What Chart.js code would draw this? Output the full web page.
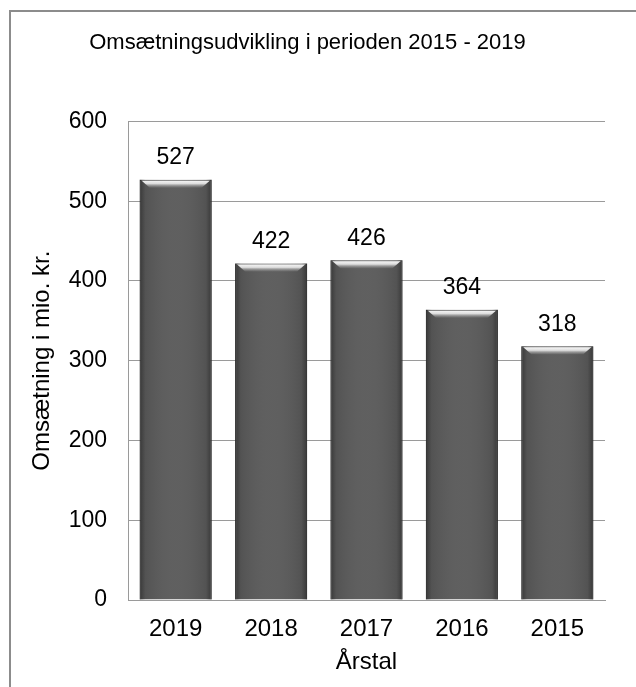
<!DOCTYPE html>
<html>
<head>
<meta charset="utf-8">
<script src="https://cdn.jsdelivr.net/npm/chart.js@4"></script>
<style>
  body { margin: 0; background: #fff; }
  #wrap { position: relative; width: 636px; height: 687px; }
  #frame { position: absolute; left: 9px; top: 10px; width: 700px; height: 700px;
           border-left: 2px solid #8c8c8c; border-top: 2px solid #8c8c8c; }
  canvas { position: absolute; left: 0; top: 0; }
</style>
</head>
<body>
<div id="wrap">
  <div id="frame"></div>
  <canvas id="omsChart" width="636" height="687"></canvas>
</div>
<script>
// chart data
const years = ['2019', '2018', '2017', '2016', '2015'];
const revenue = [527, 422, 426, 364, 318];
const yTicks = [0, 100, 200, 300, 400, 500, 600];

const font = 'Liberation Sans, Arial, sans-serif';

// shading + value labels on top of the bars
const barLook = {
    id: 'barLook',
    afterDatasetsDraw(chart) {
        const ctx = chart.ctx;
        const meta = chart.getDatasetMeta(0);
        meta.data.forEach((bar, i) => {
            const left = bar.x - bar.width / 2;
            const right = bar.x + bar.width / 2;
            const top = bar.y;
            const bottom = bar.base;
            ctx.save();
            // darker sides
            const g = ctx.createLinearGradient(left, 0, right, 0);
            g.addColorStop(0, 'rgba(30,30,30,0.55)');
            g.addColorStop(0.08, 'rgba(30,30,30,0.1)');
            g.addColorStop(0.5, 'rgba(255,255,255,0.04)');
            g.addColorStop(0.92, 'rgba(30,30,30,0.1)');
            g.addColorStop(1, 'rgba(30,30,30,0.55)');
            ctx.fillStyle = g;
            ctx.fillRect(left, top, right - left, bottom - top);
            // top bevel
            const bh = 8;
            const bg = ctx.createLinearGradient(0, top, 0, top + bh);
            bg.addColorStop(0, 'rgba(255,255,255,1)');
            bg.addColorStop(0.5, 'rgba(235,235,235,0.9)');
            bg.addColorStop(1, 'rgba(150,150,150,0.2)');
            ctx.fillStyle = bg;
            ctx.beginPath();
            ctx.moveTo(left + 2, top + 1);
            ctx.lineTo(right - 2, top + 1);
            ctx.lineTo(right - 10, top + bh);
            ctx.lineTo(left + 10, top + bh);
            ctx.closePath();
            ctx.fill();
            // value label
            ctx.fillStyle = '#000';
            ctx.font = '23px ' + font;
            ctx.textAlign = 'center';
            ctx.textBaseline = 'middle';
            ctx.fillText(String(revenue[i]), bar.x, top - 22);
            ctx.restore();
        });
    }
};

const ctx = document.getElementById('omsChart').getContext('2d');
const omsChart = new Chart(ctx, {
    type: 'bar',
    data: {
        labels: years,
        datasets: [{
            data: revenue,
            backgroundColor: '#595959',
            borderColor: '#3c3c3c',
            borderWidth: 1,
            categoryPercentage: 1,
            barPercentage: 0.755,
        }]
    },
    options: {
        responsive: false,
        animation: false,
        layout: { padding: { left: 10, right: 31, top: 0, bottom: 0 } },
        plugins: {
            legend: { display: false },
            tooltip: { enabled: false },
            title: {
                display: true,
                text: 'Omsætningsudvikling i perioden 2015 - 2019',
                color: '#000',
                font: { family: font, size: 22, weight: 'normal' },
                padding: { top: 30, bottom: 65 },
            },
        },
        scales: {
            x: {
                grid: { display: false, drawTicks: false },
                border: { display: true, color: '#9a9a9a', width: 1 },
                ticks: { color: '#000', font: { family: font, size: 24 }, padding: 15 },
                title: {
                    display: true,
                    text: 'Årstal',
                    color: '#000',
                    font: { family: font, size: 24 },
                    padding: { top: 2, bottom: 10 },
                },
                afterFit(scale) { scale.height = 87; },
            },
            y: {
                min: 0,
                max: 600,
                afterBuildTicks(scale) { scale.ticks = yTicks.map(v => ({ value: v })); },
                grid: { color: '#9a9a9a', drawTicks: false },
                border: { display: true, color: '#9a9a9a', width: 1 },
                ticks: { color: '#000', font: { family: font, size: 23 }, padding: 21 },
                title: {
                    display: true,
                    text: 'Omsætning i mio. kr.',
                    color: '#000',
                    font: { family: font, size: 24 },
                    padding: { top: 18, bottom: 2 },
                },
                afterFit(scale) { scale.width = 118; },
            },
        },
    },
    plugins: [barLook],
});
</script>
</body>
</html>
